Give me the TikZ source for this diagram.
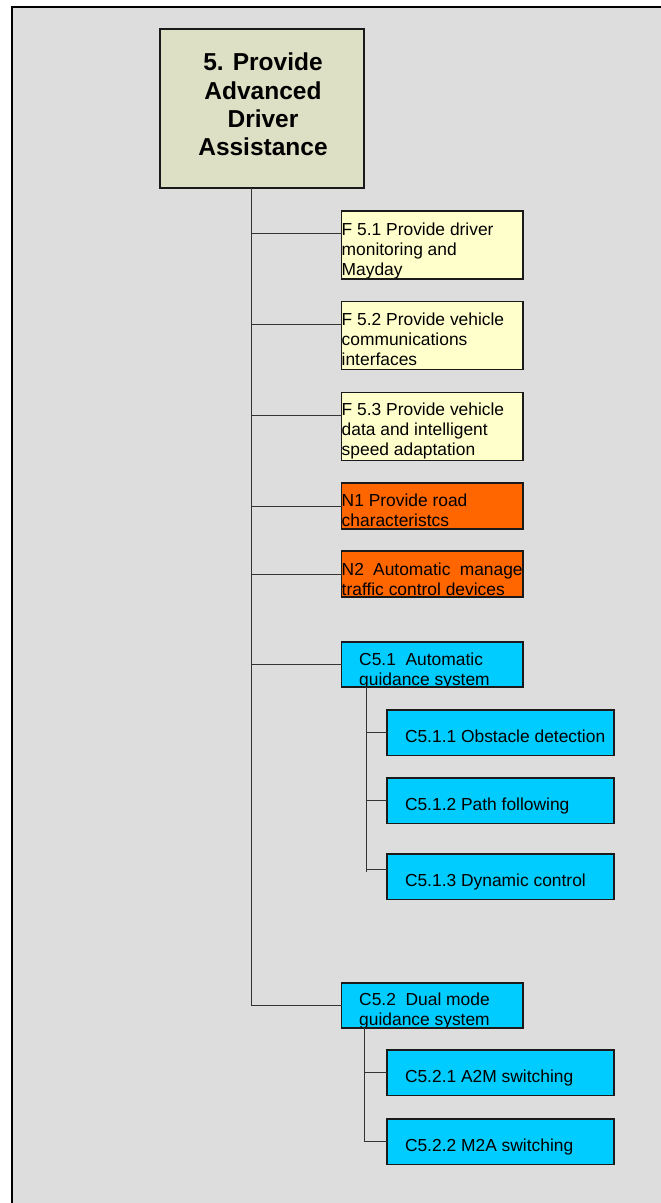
\documentclass[tikz,border=0pt]{standalone}
\usepackage{fontspec}
\setmainfont{Liberation Sans}
\definecolor{bgc}{HTML}{DDDDDD}
\definecolor{mgreen}{HTML}{DDE0C4}
\definecolor{fyel}{HTML}{FFFFCC}
\definecolor{norange}{HTML}{FF6600}
\definecolor{ccyan}{HTML}{00CCFF}
\definecolor{linec}{HTML}{333333}
\definecolor{boxc}{HTML}{1A1A1A}
\newcommand\smallf{\fontsize{17.4}{20}\selectfont}
\newcommand\bigf{\fontsize{24.5}{28.4}\selectfont\bfseries}
\begin{document}
\begin{tikzpicture}[x=1pt,y=-1pt,
  conn/.style={draw=linec, line width=1pt},
  box/.style={draw=boxc, line width=1.1pt, inner sep=0pt, outer sep=0pt, anchor=north west},
  fb/.style={box, fill=fyel, minimum width=181.3pt, minimum height=68pt},
  nb/.style={box, fill=norange, minimum width=181.3pt, minimum height=46pt},
  cb/.style={box, fill=ccyan, minimum width=181.3pt, minimum height=45pt},
  lb/.style={box, fill=ccyan, minimum width=227pt, minimum height=45.5pt},
  inner/.style={draw=none, fill=none, minimum width=0pt, minimum height=0pt, inner sep=0pt, text=black},
  txt/.style n args={3}{path picture={\node[inner, anchor=base west, font=\smallf]
      at ([shift={(#1pt,-#2pt)}]path picture bounding box.north west)
      {\begin{tabular}[t]{@{}l@{}}#3\end{tabular}};}},
]
\useasboundingbox (0,0) rectangle (661,1203);
\clip (0,0) rectangle (661,1203);
\fill[white] (0,0) rectangle (661,1203);
\fill[bgc] (12,7) rectangle (680,1220);
\draw[black, line width=2pt] (12,1220) -- (12,7) -- (680,7);

% root
\node[box, fill=mgreen, minimum width=204pt, minimum height=159pt,
  path picture={\node[inner, anchor=base, font=\bigf]
    at ([shift={(103pt,-41.7pt)}]path picture bounding box.north west)
    {\begin{tabular}[t]{@{}c@{}}5. Provide\\Advanced\\Driver\\Assistance\end{tabular}};}]
  (main) at (160,29) {};

% level 1
\node[fb, txt={0}{24}{F 5.1 Provide driver\\monitoring and\\Mayday}] (f51) at (341.7,211) {};
\node[fb, txt={0}{23.5}{F 5.2 Provide vehicle\\communications\\interfaces}] (f52) at (341.7,301.7) {};
\node[fb, txt={0}{22.8}{F 5.3 Provide vehicle\\data and intelligent\\speed adaptation}] (f53) at (341.7,392.7) {};
\node[nb, txt={0}{23.7}{N1 Provide road\\characteristcs}] (n1) at (341.7,483) {};
\node[nb, txt={0}{24.5}{\makebox[181pt][s]{N2 Automatic manage}\\traffic control devices}] (n2) at (341.7,551) {};
\node[cb, txt={17.5}{23.7}{C5.1\ \ Automatic\\guidance system}] (c51) at (341.7,642) {};
\node[cb, txt={17.5}{22.5}{C5.2\ \ Dual mode\\guidance system}] (c52) at (341.7,983) {};

% level 2
\node[lb, txt={18}{32.5}{C5.1.1 Obstacle detection}] (c511) at (387,710) {};
\node[lb, txt={18}{32.5}{C5.1.2 Path following}] (c512) at (387,778) {};
\node[lb, txt={18}{32.5}{C5.1.3 Dynamic control}] (c513) at (387,854) {};
\node[lb, txt={18}{32}{C5.2.1 A2M switching}] (c521) at (387,1050) {};
\node[lb, txt={18}{32}{C5.2.2 M2A switching}] (c522) at (387,1119) {};

% trunk
\coordinate (tr) at ([xshift=-10.3pt]main.south);
\draw[conn] (tr) |- (c52.west);
\coordinate (b51) at ([yshift=11.7pt]f51.west);
\coordinate (b52) at ([yshift=11.7pt]f52.west);
\coordinate (b53) at ([yshift=11.7pt]f53.west);
\draw[conn] (tr |- b51) -- (b51);
\draw[conn] (tr |- b52) -- (b52);
\draw[conn] (tr |- b53) -- (b53);
\draw[conn] (tr |- n1.west) -- (n1.west);
\draw[conn] (tr |- n2.west) -- (n2.west);
\draw[conn] (tr |- c51.west) -- (c51.west);

% sub trunk C5.1
\coordinate (s1) at ([xshift=24.3pt]c51.south west);
\coordinate (s1e) at ([yshift=-185pt]s1);
\coordinate (b513) at ([yshift=7.5pt]c513.west);
\draw[conn] (s1) -- (s1e);
\draw[conn] (s1 |- c511.west) -- (c511.west);
\draw[conn] (s1 |- c512.west) -- (c512.west);
\draw[conn] (s1 |- b513) -- (b513);

% sub trunk C5.2
\coordinate (s2) at ([xshift=22.3pt]c52.south west);
\draw[conn] (s2) |- (c522.west);
\draw[conn] (s2 |- c521.west) -- (c521.west);
\end{tikzpicture}
\end{document}
